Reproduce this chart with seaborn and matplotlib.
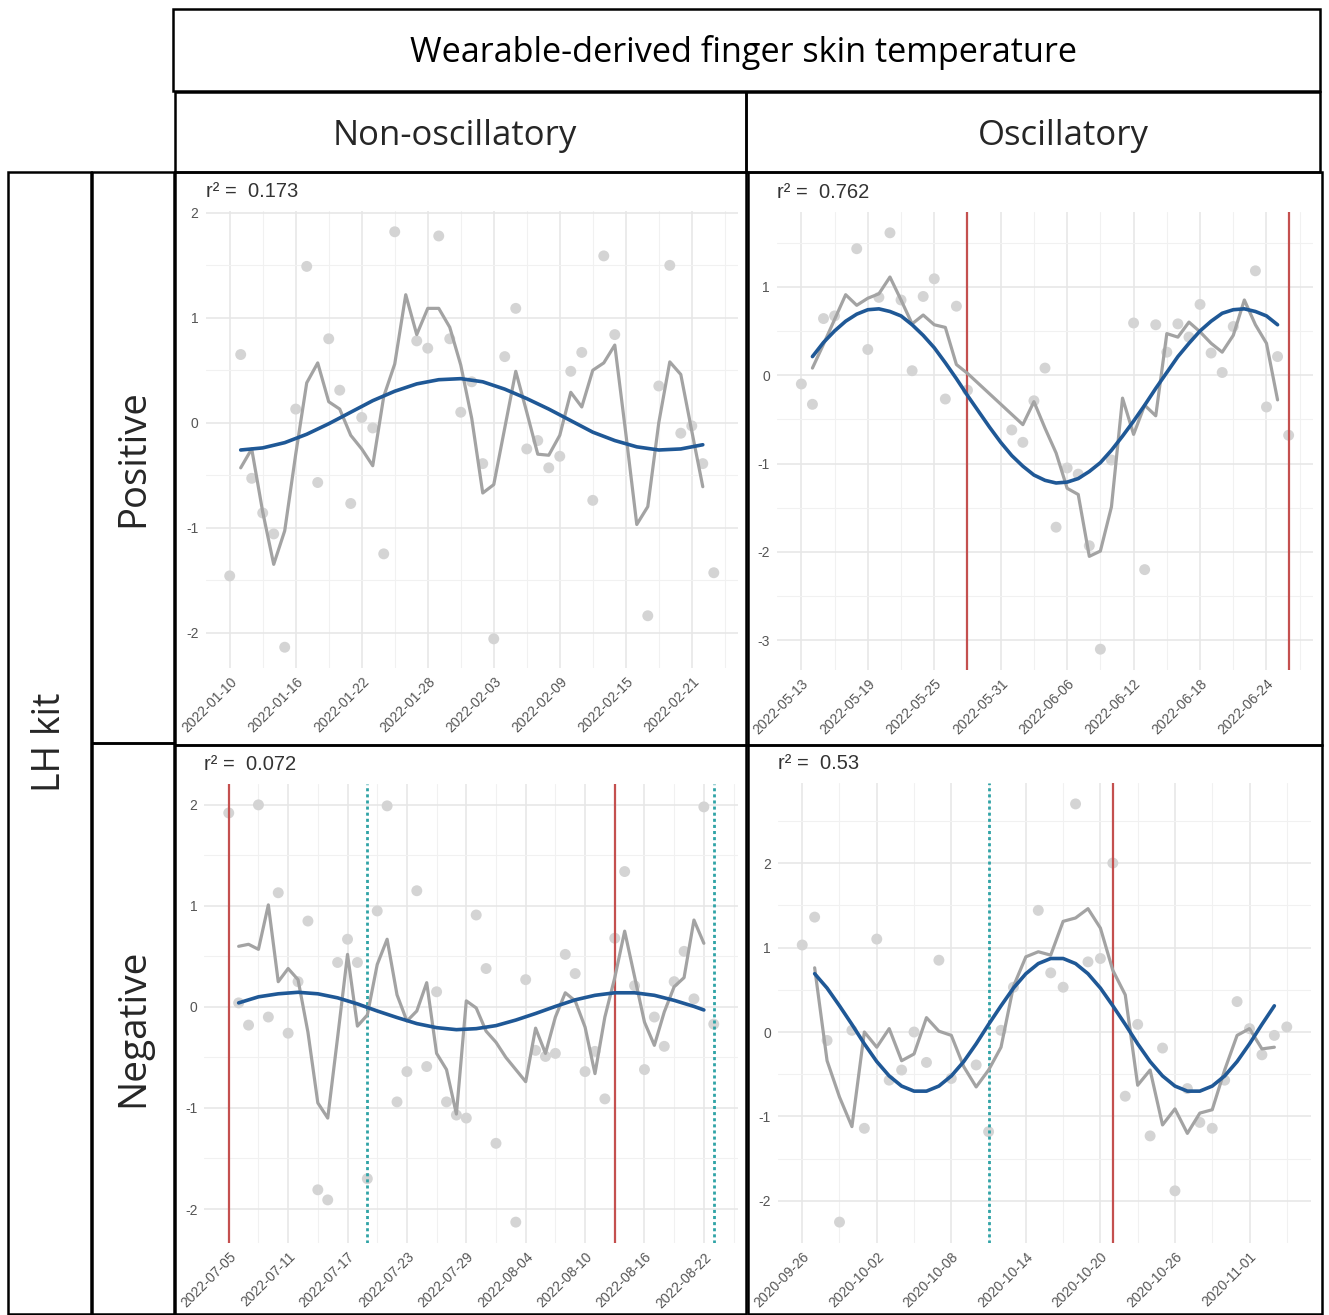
import matplotlib
matplotlib.use("Agg")
import matplotlib.pyplot as plt
from matplotlib.patches import Rectangle
from matplotlib.ticker import MultipleLocator
import pandas as pd
import seaborn as sns

sns.set_theme(style="white")
plt.rcParams["font.family"] = ["Liberation Sans", "DejaVu Sans"]
plt.rcParams["axes.unicode_minus"] = False

# ---------------- data ----------------
# Non-oscillatory / Positive
tl_start = "2022-01-10"
tl_r2 = "0.173"
tl_dot_day = [0, 1, 2, 3, 4, 5, 6, 7, 8, 9, 10, 11, 12, 13, 14, 15, 17, 18, 19, 20, 21,
              22, 23, 24, 25, 26, 27, 28, 29, 30, 31, 32, 33, 34, 35, 38, 39, 40, 41, 42, 43, 44]
tl_dot_val = [-1.46, 0.65, -0.53, -0.86, -1.06, -2.14, 0.13, 1.49, -0.57, 0.80, 0.31, -0.77,
              0.05, -0.05, -1.25, 1.82, 0.78, 0.71, 1.78, 0.80, 0.10, 0.39, -0.39, -2.06, 0.63,
              1.09, -0.25, -0.17, -0.43, -0.32, 0.49, 0.67, -0.74, 1.59, 0.84, -1.84, 0.35,
              1.50, -0.10, -0.03, -0.39, -1.43]
tl_line_day = list(range(1, 44))
tl_line_val = [-0.43, -0.25, -0.85, -1.35, -1.03, -0.30, 0.38, 0.57, 0.20, 0.13, -0.12, -0.25,
               -0.41, 0.25, 0.56, 1.22, 0.84, 1.09, 1.09, 0.91, 0.55, 0.04, -0.67, -0.59, -0.05,
               0.49, 0.10, -0.30, -0.31, -0.12, 0.29, 0.15, 0.50, 0.57, 0.74, -0.10, -0.97,
               -0.80, 0.00, 0.58, 0.46, -0.08, -0.61]
tl_fit_day = list(range(1, 44, 2))
tl_fit_val = [-0.26, -0.24, -0.19, -0.11, -0.01, 0.10, 0.21, 0.30, 0.37, 0.41, 0.42, 0.39,
              0.32, 0.23, 0.13, 0.02, -0.09, -0.17, -0.23, -0.26, -0.25, -0.21]
tl_red = []
tl_teal = []

# Oscillatory / Positive
tr_start = "2022-05-13"
tr_r2 = "0.762"
tr_dot_day = [0, 1, 2, 3, 5, 6, 7, 8, 9, 10, 11, 12, 13, 14, 15, 19, 20, 21, 22, 23, 24, 25,
              26, 27, 28, 30, 31, 32, 33, 34, 35, 36, 37, 38, 39, 41, 42, 43, 44]
tr_dot_val = [-0.10, -0.33, 0.64, 0.67, 1.43, 0.29, 0.88, 1.61, 0.85, 0.05, 0.89, 1.09, -0.27,
              0.78, -0.17, -0.62, -0.76, -0.29, 0.08, -1.72, -1.05, -1.12, -1.93, -3.10, -0.96,
              0.59, -2.20, 0.57, 0.26, 0.58, 0.43, 0.80, 0.25, 0.03, 0.55, 1.18, -0.36, 0.21,
              -0.68]
tr_line_day = list(range(1, 16)) + list(range(20, 44))
tr_line_val = [0.08, 0.35, 0.63, 0.91, 0.79, 0.87, 0.92, 1.11, 0.85, 0.58, 0.68, 0.57, 0.54,
               0.12, 0.02,
               -0.56, -0.30, -0.60, -0.88, -1.28, -1.35, -2.05, -1.99, -1.49, -0.26, -0.67,
               -0.34, -0.46, 0.47, 0.43, 0.60, 0.49, 0.36, 0.26, 0.45, 0.85, 0.57, 0.36, -0.28]
tr_fit_day = list(range(1, 44))
tr_fit_val = [0.21, 0.37, 0.50, 0.61, 0.69, 0.74, 0.75, 0.72, 0.67, 0.57, 0.45, 0.31, 0.14,
              -0.04, -0.23, -0.41, -0.59, -0.76, -0.91, -1.03, -1.13, -1.19, -1.22, -1.21,
              -1.17, -1.09, -0.99, -0.85, -0.69, -0.52, -0.34, -0.15, 0.03, 0.21, 0.36, 0.50,
              0.61, 0.70, 0.74, 0.75, 0.72, 0.67, 0.57]
tr_red = [15, 44]
tr_teal = []

# Non-oscillatory / Negative
bl_start = "2022-07-05"
bl_r2 = "0.072"
bl_dot_day = [0, 1, 2, 3, 4, 5, 6, 7, 8, 9, 10, 11, 12, 13, 14, 15, 16, 17, 18, 19, 20, 21,
              22, 23, 24, 25, 26, 27, 29, 30, 31, 32, 33, 34, 35, 36, 37, 38, 39, 40, 41, 42,
              43, 44, 45, 46, 47, 48, 49]
bl_dot_val = [1.92, 0.04, -0.18, 2.00, -0.10, 1.13, -0.26, 0.25, 0.85, -1.81, -1.91, 0.44,
              0.67, 0.44, -1.70, 0.95, 1.99, -0.94, -0.64, 1.15, -0.59, 0.15, -0.94, -1.07,
              -1.10, 0.91, 0.38, -1.35, -2.13, 0.27, -0.43, -0.49, -0.46, 0.52, 0.33, -0.64,
              -0.44, -0.91, 0.68, 1.34, 0.21, -0.62, -0.10, -0.39, 0.25, 0.55, 0.08, 1.98, -0.17]
bl_line_day = list(range(1, 49))
bl_line_val = [0.60, 0.62, 0.57, 1.01, 0.25, 0.38, 0.27, -0.25, -0.95, -1.10,
               -0.30, 0.52, -0.19, -0.08, 0.42, 0.67, 0.12, -0.14, -0.04, 0.24,
               -0.46, -0.62, -1.06, 0.06, -0.01, -0.24, -0.35, -0.50, -0.62, -0.74,
               -0.21, -0.46, -0.10, 0.14, 0.06, -0.20, -0.66, -0.10, 0.29, 0.75,
               0.30, -0.15, -0.38, -0.05, 0.20, 0.29, 0.86, 0.63]
bl_fit_day = list(range(1, 48, 2)) + [48]
bl_fit_val = [0.04, 0.10, 0.13, 0.145, 0.13, 0.09, 0.03, -0.04, -0.105, -0.165, -0.205,
              -0.225, -0.215, -0.185, -0.13, -0.065, 0.005, 0.07, 0.115, 0.14, 0.14, 0.115,
              0.065, 0.005, -0.03]
bl_red = [0, 39]
bl_teal = [14, 49]

# Oscillatory / Negative
br_start = "2020-09-26"
br_r2 = "0.53"
br_dot_day = [0, 1, 2, 3, 4, 5, 6, 7, 8, 9, 10, 11, 12, 14, 15, 16, 17, 19, 20, 21, 22, 23,
              24, 25, 26, 27, 28, 29, 30, 31, 32, 33, 34, 35, 36, 37, 38, 39]
br_dot_val = [1.03, 1.36, -0.10, -2.25, 0.02, -1.14, 1.10, -0.57, -0.45, 0.00, -0.36, 0.85,
              -0.55, -0.39, -1.18, 0.02, 0.53, 1.44, 0.70, 0.53, 2.70, 0.83, 0.87, 2.00,
              -0.76, 0.09, -1.23, -0.19, -1.88, -0.67, -1.07, -1.14, -0.57, 0.36, 0.04,
              -0.27, -0.04, 0.06]
br_line_day = list(range(1, 39))
br_line_val = [0.76, -0.34, -0.77, -1.12, 0.00, -0.18, 0.04, -0.34, -0.26, 0.17,
               0.01, -0.04, -0.41, -0.65, -0.45, -0.18, 0.54, 0.89, 0.95, 0.91,
               1.31, 1.35, 1.46, 1.23, 0.73, 0.44, -0.63, -0.45, -1.10, -0.91,
               -1.20, -0.96, -0.92, -0.45, -0.04, 0.04, -0.20, -0.18]
br_fit_day = list(range(1, 39))
br_fit_val = [0.69, 0.52, 0.31, 0.09, -0.14, -0.35, -0.52, -0.64, -0.70, -0.70,
              -0.64, -0.52, -0.35, -0.14, 0.09, 0.31, 0.52, 0.69, 0.81, 0.87,
              0.87, 0.81, 0.69, 0.52, 0.31, 0.09, -0.14, -0.35, -0.52, -0.64,
              -0.70, -0.70, -0.64, -0.52, -0.35, -0.14, 0.09, 0.31]
br_red = [25]
br_teal = [15]

title = "Wearable-derived finger skin temperature"
col_labels = ["Non-oscillatory", "Oscillatory"]
row_labels = ["Positive", "Negative"]
outer_label = "LH kit"

# ---------------- style ----------------
DOT = "#d4d4d4"
GREY = "#a3a3a3"
BLUE = "#1f5896"
RED = "#c4504f"
TEAL = "#2fa3a6"
HEAD_FONT = ["Open Sans", "DejaVu Sans"]

W, H = 1329, 1315
fig = plt.figure(figsize=(W / 100, H / 100), dpi=100)
fig.patch.set_facecolor("white")

# full-figure layer in pixel units for the table frame and header cells
bg = fig.add_axes([0, 0, 1, 1])
bg.set_xlim(0, W)
bg.set_ylim(H, 0)
bg.axis("off")


def cell(x0, y0, x1, y1, lw=1.8):
    bg.add_patch(Rectangle((x0, y0), x1 - x0, y1 - y0, fill=False, ec="black", lw=lw))


cell(173, 9, 1320, 91)
cell(175, 92, 746, 172)
cell(746, 92, 1320, 172)
cell(8, 172, 91, 1314)
cell(92, 172, 174, 743)
cell(92, 743, 174, 1314)
cell(175, 172, 746, 745)
cell(748, 172, 1322, 745)
cell(175, 745, 746, 1314)
cell(748, 745, 1322, 1314)

bg.text(743, 52, title, ha="center", va="center", fontsize=24.7, family=HEAD_FONT,
        color="black")
bg.text(455, 136, col_labels[0], ha="center", va="center", fontsize=25, family=HEAD_FONT)
bg.text(1063, 136, col_labels[1], ha="center", va="center", fontsize=25, family=HEAD_FONT)
bg.text(133, 458, row_labels[0], ha="center", va="center", rotation=90, fontsize=27.5,
        family=HEAD_FONT)
bg.text(133, 1028, row_labels[1], ha="center", va="center", rotation=90, fontsize=28,
        family=HEAD_FONT)
bg.text(50, 742, outer_label, ha="center", va="center", rotation=90, fontsize=27,
        family=HEAD_FONT)


def panel(box, start, r2, dot_d, dot_v, line_d, line_v, fit_d, fit_v, red, teal):
    x0, y0, x1, y1 = box
    ax = fig.add_axes([x0 / W, 1 - y1 / H, (x1 - x0) / W, (y1 - y0) / H])
    ax.set_facecolor("white")

    sns.scatterplot(x=dot_d, y=dot_v, color=DOT, s=62, edgecolor="none", ax=ax, zorder=2,
                    legend=False)
    for d in red:
        ax.axvline(d, color=RED, lw=1.6, zorder=3)
    for d in teal:
        ax.axvline(d, color=TEAL, lw=2.0, ls=(0, (1.1, 1.1)), zorder=3)
    sns.lineplot(x=line_d, y=line_v, color=GREY, lw=2.3, ax=ax, zorder=4, legend=False)
    sns.lineplot(x=fit_d, y=fit_v, color=BLUE, lw=2.6, ax=ax, zorder=5, legend=False)

    xs = list(dot_d) + list(line_d) + list(red) + list(teal)
    lo, hi = min(xs), max(xs)
    pad = 0.05 * (hi - lo)
    ax.set_xlim(lo - pad, hi + pad)
    ys = list(dot_v) + list(line_v) + list(fit_v)
    ylo, yhi = min(ys), max(ys)
    ypad = 0.05 * (yhi - ylo)
    ax.set_ylim(ylo - ypad, yhi + ypad)

    ticks = list(range(0, int(hi) + 1, 6))
    ax.set_xticks(ticks)
    ax.set_xticklabels([(pd.Timestamp(start) + pd.Timedelta(days=t)).strftime("%Y-%m-%d")
                        for t in ticks], rotation=45, ha="right", va="top",
                       rotation_mode="anchor")
    ax.xaxis.set_minor_locator(MultipleLocator(3))
    ax.yaxis.set_major_locator(MultipleLocator(1))
    ax.yaxis.set_minor_locator(MultipleLocator(0.5))
    ax.yaxis.set_major_formatter(plt.FuncFormatter(lambda v, p: f"{v:.0f}"))

    ax.grid(which="major", color="#e6e6e6", lw=1.1)
    ax.grid(which="minor", color="#f1f1f1", lw=0.8)
    ax.set_axisbelow(True)
    for s in ax.spines.values():
        s.set_visible(False)
    ax.tick_params(which="both", length=0, labelsize=10, colors="#555555", pad=5)
    ax.set_xlabel("")
    ax.set_ylabel("")

    ax.annotate(f"r\u00b2 =  {r2}", xy=(0, 1), xycoords="axes fraction",
                xytext=(0, 10), textcoords="offset points", ha="left", va="baseline",
                fontsize=14.5, color="#333333")
    return ax


panel((205.5, 211, 738, 668), tl_start, tl_r2, tl_dot_day, tl_dot_val, tl_line_day,
      tl_line_val, tl_fit_day, tl_fit_val, tl_red, tl_teal)
panel((777, 212, 1313, 670), tr_start, tr_r2, tr_dot_day, tr_dot_val, tr_line_day,
      tr_line_val, tr_fit_day, tr_fit_val, tr_red, tr_teal)
panel((204.5, 784, 738, 1243), bl_start, bl_r2, bl_dot_day, bl_dot_val, bl_line_day,
      bl_line_val, bl_fit_day, bl_fit_val, bl_red, bl_teal)
panel((778, 783, 1311, 1243), br_start, br_r2, br_dot_day, br_dot_val, br_line_day,
      br_line_val, br_fit_day, br_fit_val, br_red, br_teal)

fig.savefig("out.png", dpi=100, facecolor="white")
